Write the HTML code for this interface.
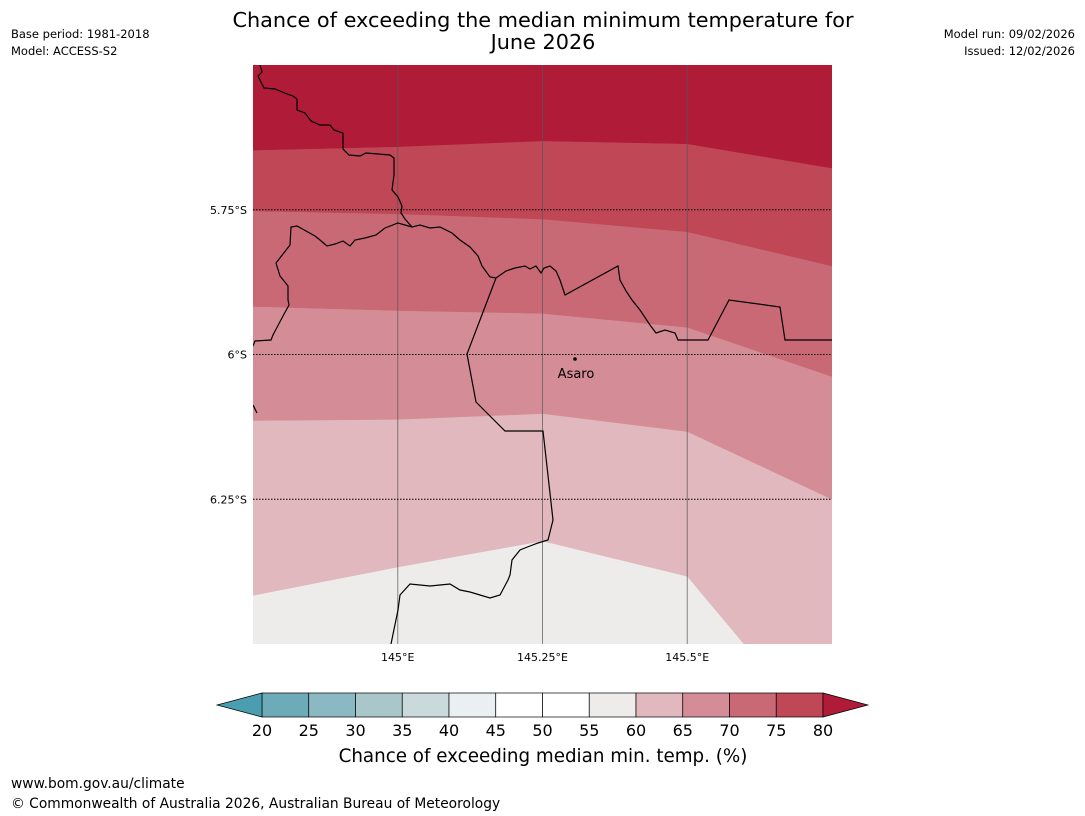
<!DOCTYPE html>
<html><head><meta charset="utf-8"><style>
body{margin:0;background:#fff;width:1085px;height:816px;overflow:hidden;font-family:"Liberation Sans","DejaVu Sans",sans-serif}
svg{position:absolute;left:0;top:0}
</style></head><body>
<svg width="1085" height="816" viewBox="0 0 1085 816" font-family="DejaVu Sans, Liberation Sans, sans-serif">
<text x="543" y="27" font-size="20.8" text-anchor="middle">Chance of exceeding the median minimum temperature for</text>
<text x="543" y="49" font-size="20.8" text-anchor="middle">June 2026</text>
<text x="11" y="38" font-size="11.5">Base period: 1981-2018</text>
<text x="11" y="55" font-size="11.5">Model: ACCESS-S2</text>
<text x="1075" y="38" font-size="11.5" text-anchor="end">Model run: 09/02/2026</text>
<text x="1075" y="55" font-size="11.5" text-anchor="end">Issued: 12/02/2026</text>
<g id="map"></g>
<g id="cbar"></g>
<text x="543" y="762" font-size="18.3" text-anchor="middle">Chance of exceeding median min. temp. (%)</text>
<text x="11" y="788" font-size="13.8">www.bom.gov.au/climate</text>
<text x="11" y="808" font-size="13.8">© Commonwealth of Australia 2026, Australian Bureau of Meteorology</text>
</svg>
<script>
const lonTicks=[145,145.25,145.5];
const latTicks=[-5.75,-6,-6.25];
const lonTickLabels=["145°E","145.25°E","145.5°E"];
const latTickLabels=["5.75°S","6°S","6.25°S"];
const levels=[60,65,70,75,80];
const bandColors=["#e0b8bd","#d48d96","#c96975","#bf4756","#b01c38"];
const baseColor="#eeeceb";
const boundaryLons=[144.75,145.0,145.25,145.5,145.75];
const b60=[-6.416,-6.367,-6.322,-6.383,-6.5];
const b65=[-6.114,-6.112,-6.102,-6.133,-6.25];
const b70=[-5.917,-5.924,-5.929,-5.953,-6.038];
const b75=[-5.752,-5.757,-5.766,-5.788,-5.847];
const b80=[-5.647,-5.641,-5.631,-5.636,-5.678];
const b60EndLon=145.598;
const cbLevels=[20,25,30,35,40,45,50,55,60,65,70,75,80];
const cbColors=["#6eabb8","#8ab8c3","#a9c6cb","#c9d9dc","#eaf0f2","#ffffff","#ffffff","#eeeceb","#e0b8bd","#d48d96","#c96975","#bf4756"];
const cbLow="#4a9eb0", cbHigh="#b01c38";

const NS="http://www.w3.org/2000/svg";
const X0=253,X1=832,Y0=65,Y1=644,LON0=144.75,LON1=145.75,LAT0=-5.5,LAT1=-6.5;
const xs=l=>X0+(l-LON0)/(LON1-LON0)*(X1-X0);
const ys=l=>Y0+(l-LAT0)/(LAT1-LAT0)*(Y1-Y0);
function mk(tag,attrs,parent){const e=document.createElementNS(NS,tag);for(const k in attrs)e.setAttribute(k,attrs[k]);parent.appendChild(e);return e;}
const map=document.getElementById('map');
const defs=mk('defs',{},map);
const cp=mk('clipPath',{id:'clip'},defs);
mk('rect',{x:X0,y:Y0,width:X1-X0,height:Y1-Y0},cp);
const g=mk('g',{'clip-path':'url(#clip)'},map);
const bg=mk('rect',{x:X0,y:Y0,width:X1-X0,height:Y1-Y0,fill:baseColor},g);


const bounds=[b60,b65,b70,b75,b80];
bounds.forEach((b,i)=>{
  let pts=[[xs(LON0),Y0-5]];
  b.forEach((lat,j)=>pts.push([xs(boundaryLons[j]),ys(lat)]));
  if(i===0){pts.splice(pts.length-1,1);pts.push([xs(b60EndLon),ys(-6.5)]);pts.push([xs(LON1),ys(-6.5)+5]);}
  pts.push([xs(LON1)+5,ys(b[b.length-1])+(i===0?5:0)]);pts.push([xs(LON1)+5,Y0-5]);
  const p=mk('polygon',{points:pts.map(q=>q.join(',')).join(' '),fill:bandColors[i],stroke:bandColors[i],'stroke-width':0.5},g);
  
  
});
lonTicks.forEach((l,i)=>{
  const ln=mk('line',{x1:xs(l),x2:xs(l),y1:Y0,y2:Y1,stroke:'#555','stroke-opacity':0.7,'stroke-width':1},g);
  
  
  const t=mk('text',{x:xs(l),y:Y1+17,'font-size':11,'text-anchor':'middle'},map);t.textContent=lonTickLabels[i];
  
  
});
latTicks.forEach((l,i)=>{
  const ln=mk('line',{x1:X0,x2:X1,y1:ys(l),y2:ys(l),stroke:'#000','stroke-width':1,'stroke-dasharray':'1.5,1.5'},g);
  
  
  const t=mk('text',{x:X0-6,y:ys(l)+4,'font-size':11,'text-anchor':'end'},map);t.textContent=latTickLabels[i];
  
  
});
const lines=[
"260,65 262,72 258,76 264,88 275,89 287,94 293,96 297,99 297,110 305,113 311,121 320,125 330,125 334,130 343,133 343,149 349,155 360,156 366,153 378,154 390,155 394,158 394,175 392,190 398,197 402,206 401,213 405,219 412,227",
"412,227 398,223 385,228 376,235 365,238 355,240 350,246 343,241 335,244 327,246 320,240 315,236 297,226 291,227 290,245 283,254 276,263 280,276 288,286 288,300 289,305 283,316 273,335 271,340 255,341 253,346",
"412,227 420,225 430,228 440,227 452,233 460,240 470,247 478,256 482,266 490,277 496,278 506,271 515,268 525,266 530,269 536,266 541,273 544,268 550,266 556,271 560,280 565,295 618,266 620,280 626,291 632,300 640,310 650,325 656,333 665,330 675,333 678,340 708,340 729,300 780,307 785,340 832,340",
"496,278 467,354 476,402 505,431 543,431 553,520 548,540 538,543 530,546 520,550 512,560 510,575 508,580 500,595 490,598 480,595 470,592 460,590 450,584 440,585 430,586 410,584 400,595 398,610 391,644",
"253,405 257,413"];
lines.forEach(s=>{const p=mk('polyline',{points:s,fill:'none',stroke:'#000','stroke-width':1.2},g);
  
  });
const dot=mk('circle',{cx:575,cy:359,r:1.8,fill:'#000'},map);


const at=mk('text',{x:576,y:378,'font-size':13,'text-anchor':'middle'},map);at.textContent='Asaro';



const cb=document.getElementById('cbar');
const CX0=262,CX1=823,CY0=693,CY1=717;
const cx=v=>CX0+(v-20)/60*(CX1-CX0);
cbColors.forEach((c,i)=>{
  const r=mk('rect',{x:cx(cbLevels[i]),y:CY0,width:cx(cbLevels[i+1])-cx(cbLevels[i]),height:CY1-CY0,fill:c,stroke:'#000','stroke-width':0.7},cb);
  
  
});
const lo=mk('polygon',{points:`${CX0},${CY0} ${CX0},${CY1} 217,705`,fill:cbLow,stroke:'#000','stroke-width':0.7},cb);


const hi=mk('polygon',{points:`${CX1},${CY0} ${CX1},${CY1} 868,705`,fill:cbHigh,stroke:'#000','stroke-width':0.7},cb);


cbLevels.forEach(v=>{
  const t=mk('text',{x:cx(v),y:736,'font-size':16,'text-anchor':'middle'},cb);t.textContent=v;
  
  
});
</script>
</body></html>
